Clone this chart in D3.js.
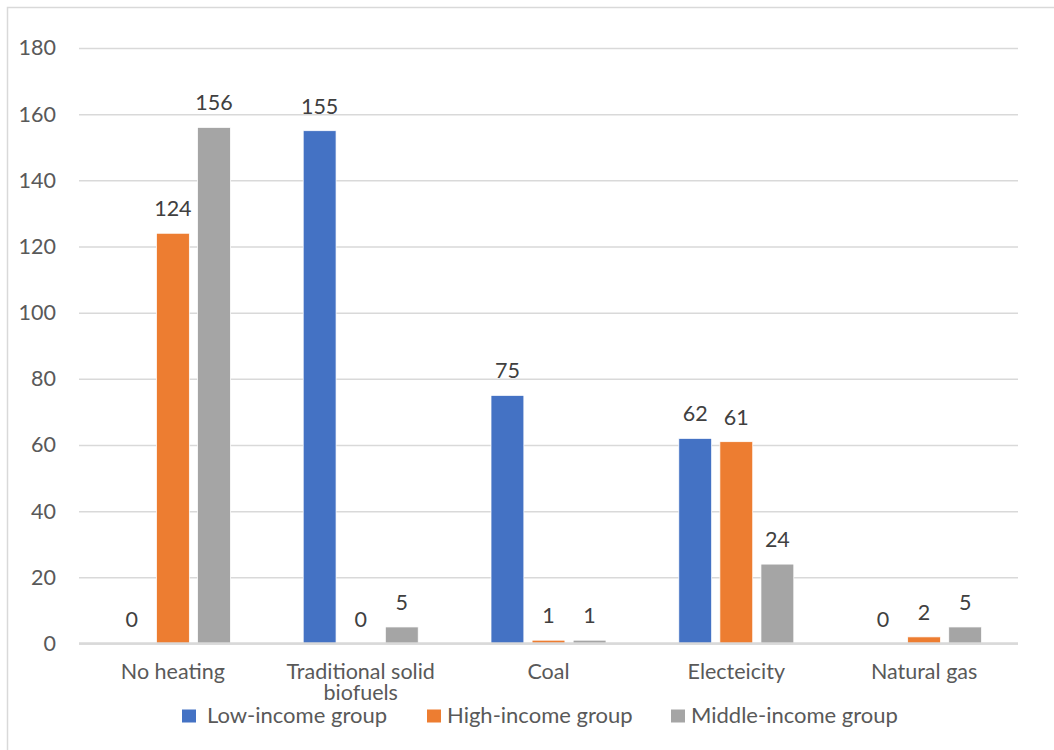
<!DOCTYPE html>
<html>
<head>
<meta charset="utf-8">
<script src="https://cdn.jsdelivr.net/npm/d3@7"></script>
<style>
  html, body { margin: 0; padding: 0; background: #fff; }
  svg { display: block; font-family: Lato, "Open Sans", "Liberation Sans", sans-serif; }
</style>
</head>
<body>
<svg id="chart" width="1054" height="750"></svg>
<script>
// Heating source by income group (number of countries)
const categories = ["No heating", "Traditional solid biofuels", "Coal", "Electeicity", "Natural gas"];
const seriesNames = ["Low-income group", "High-income group", "Middle-income group"];
const lowIncome = [0, 155, 75, 62, 0];
const highIncome = [124, 0, 1, 61, 2];
const middleIncome = [156, 5, 1, 24, 5];
const yTicks = [0, 20, 40, 60, 80, 100, 120, 140, 160, 180];
const colors = ["#4472c4", "#ed7d31", "#a5a5a5"];

const series = [lowIncome, highIncome, middleIncome];

const svg = d3.select("#chart");
const W = 1054, H = 750;
const plot = { left: 79, right: 1018, top: 48, bottom: 643.5 };
const fontSize = 21.5;

// outer chart frame
svg.append("rect")
  .attr("x", 7.5).attr("y", 7.5)
  .attr("width", W).attr("height", H)
  .attr("fill", "none").attr("stroke", "#d9d9d9").attr("stroke-width", 1.5);

const y = d3.scaleLinear().domain([0, 180]).range([plot.bottom, plot.top]);
const x0 = d3.scaleBand().domain(categories).range([plot.left, plot.right]).paddingInner(0).paddingOuter(0);
const groupWidth = 115;
const x1 = d3.scaleBand().domain(d3.range(series.length)).range([0, groupWidth]).paddingInner(0.2);

// horizontal gridlines and value axis labels
const yAxis = d3.axisLeft(y).tickValues(yTicks).tickSize(-(plot.right - plot.left)).tickPadding(23);
const gy = svg.append("g").attr("transform", `translate(${plot.left},0)`).call(yAxis);
gy.select(".domain").remove();
gy.selectAll(".tick line").attr("stroke", "#d9d9d9").attr("stroke-width", 1.5);
gy.selectAll(".tick text")
  .attr("fill", "#595959").attr("font-size", fontSize)
  .attr("font-family", "Lato, 'Open Sans', sans-serif");

// bars
const groups = svg.append("g").selectAll("g")
  .data(categories)
  .join("g")
  .attr("transform", d => `translate(${x0(d) + x0.bandwidth() / 2 - groupWidth / 2},0)`);

groups.selectAll("rect")
  .data((c, i) => series.map((s, k) => ({ k, v: s[i] })))
  .join("rect")
  .attr("x", d => x1(d.k))
  .attr("y", d => y(d.v))
  .attr("width", x1.bandwidth())
  .attr("height", d => y(0) - y(d.v))
  .attr("fill", d => colors[d.k])
  .attr("stroke", "#fff").attr("stroke-width", 0.75);

// value labels
groups.selectAll("text.val")
  .data((c, i) => series.map((s, k) => ({ k, v: s[i] })))
  .join("text")
  .attr("class", "val")
  .attr("x", d => x1(d.k) + x1.bandwidth() / 2)
  .attr("y", d => y(d.v) - 17)
  .attr("text-anchor", "middle")
  .attr("fill", "#404040")
  .attr("font-size", fontSize)
  .text(d => d.v);

// baseline
svg.append("line")
  .attr("x1", plot.left).attr("x2", plot.right)
  .attr("y1", y(0)).attr("y2", y(0))
  .attr("stroke", "#d9d9d9").attr("stroke-width", 2.5);

// category labels (wrapped where needed)
const wrapped = { "Traditional solid biofuels": ["Traditional solid", "biofuels"] };
svg.append("g").selectAll("text")
  .data(categories)
  .join("text")
  .attr("x", d => x0(d) + x0.bandwidth() / 2)
  .attr("y", 679)
  .attr("text-anchor", "middle")
  .attr("fill", "#595959")
  .attr("font-size", fontSize)
  .each(function (d) {
    const lines = wrapped[d] || [d];
    d3.select(this).selectAll("tspan")
      .data(lines)
      .join("tspan")
      .attr("x", x0(d) + x0.bandwidth() / 2)
      .attr("dy", (l, i) => i === 0 ? 0 : 21)
      .text(l => l);
  });

// legend
const legendX = [182, 427, 671];
const legendTextGap = [25, 20, 20];
const legend = svg.append("g").selectAll("g")
  .data(seriesNames)
  .join("g")
  .attr("transform", (d, i) => `translate(${legendX[i]},709.5)`);
legend.append("rect")
  .attr("width", 14)
  .attr("height", 13)
  .attr("fill", (d, i) => colors[i]);
legend.append("text")
  .attr("x", (d, i) => legendTextGap[i]).attr("y", 13)
  .attr("fill", "#595959").attr("font-size", 22)
  .text(d => d);
</script>
</body>
</html>
